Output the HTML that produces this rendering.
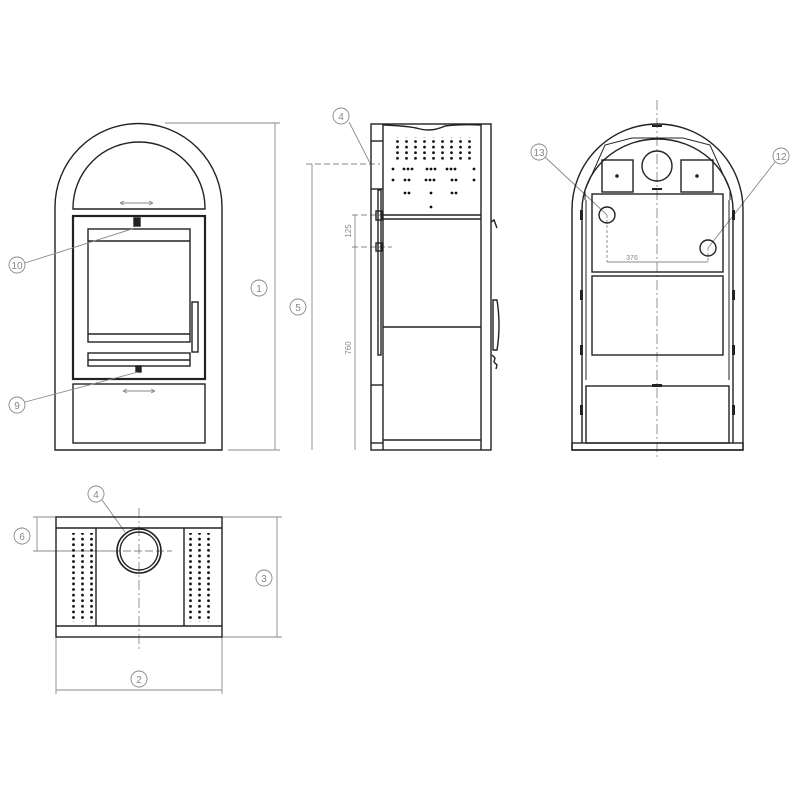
<!DOCTYPE html>
<html><head><style>body{margin:0;background:#fff}svg{display:block}</style></head><body>
<svg width="800" height="800" viewBox="0 0 800 800" xmlns="http://www.w3.org/2000/svg" font-family="Liberation Sans, sans-serif">
<defs>
<pattern id="dl" x="0" y="0" width="9" height="5.6" patternUnits="userSpaceOnUse"><circle cx="1.5" cy="1.5" r="1.4" fill="#111"/></pattern>
</defs>
<g fill="none" stroke="#222" stroke-width="1.4">
<path d="M55,450 V207 A83.5,83.5 0 0 1 222,207 V450 Z"/>
<path d="M73,209 V208 A66,66 0 0 1 205,208 V209 Z"/>
<rect x="73" y="216" width="132" height="163" stroke-width="2.2"/>
<rect x="88" y="229" width="102" height="113"/>
<line x1="88" y1="241" x2="190" y2="241"/>
<line x1="88" y1="334" x2="190" y2="334"/>
<rect x="192" y="302" width="6" height="50"/>
<rect x="88" y="353" width="102" height="13"/>
<line x1="88" y1="360" x2="190" y2="360"/>
<rect x="73" y="384" width="132" height="59"/>
<rect x="134" y="218" width="6" height="8" fill="#222"/>
<rect x="136" y="366" width="5" height="6" fill="#222"/>
</g>
<g stroke="#888" stroke-width="0.9" fill="none">
<path d="M120,203 H153 M120,203 l4,-2 M120,203 l4,2 M153,203 l-4,-2 M153,203 l-4,2"/>
<path d="M123,391 H155 M123,391 l4,-2 M123,391 l4,2 M155,391 l-4,-2 M155,391 l-4,2"/>
<line x1="25" y1="263" x2="135" y2="228"/>
<line x1="25" y1="402" x2="138" y2="372"/>
<line x1="165" y1="123" x2="280" y2="123"/>
<line x1="228" y1="450" x2="280" y2="450"/>
<line x1="275" y1="123" x2="275" y2="450"/>
<line x1="312" y1="164" x2="312" y2="450"/>
<line x1="306" y1="164" x2="380" y2="164" stroke-dasharray="6,3"/>
<line x1="355" y1="215" x2="355" y2="450"/>
<line x1="352" y1="215" x2="392" y2="215" stroke-dasharray="6,3"/>
<line x1="352" y1="247" x2="392" y2="247" stroke-dasharray="6,3"/>
<line x1="349" y1="122" x2="370" y2="163"/>
<line x1="657" y1="100" x2="657" y2="460" stroke-dasharray="10,3,2,3"/>
<line x1="545" y1="157" x2="607" y2="215"/>
<line x1="775" y1="162" x2="708" y2="248"/>
<line x1="607" y1="215" x2="607" y2="262" stroke-dasharray="3,2"/>
<line x1="708" y1="248" x2="708" y2="262" stroke-dasharray="3,2"/>
<line x1="607" y1="262" x2="708" y2="262"/>
<line x1="139" y1="508" x2="139" y2="650" stroke-dasharray="10,3,2,3"/>
<line x1="112" y1="551" x2="172" y2="551" stroke-dasharray="8,3"/>
<line x1="222" y1="517" x2="282" y2="517"/>
<line x1="222" y1="637" x2="282" y2="637"/>
<line x1="277" y1="517" x2="277" y2="637"/>
<line x1="56" y1="637" x2="56" y2="694"/>
<line x1="222" y1="637" x2="222" y2="694"/>
<line x1="56" y1="690" x2="222" y2="690"/>
<line x1="33" y1="517" x2="56" y2="517"/>
<line x1="33" y1="551" x2="118" y2="551"/>
<line x1="37" y1="517" x2="37" y2="551"/>
<line x1="102" y1="500" x2="125" y2="532"/>
</g>
<g fill="#fff" stroke="#888" stroke-width="0.9">
<circle cx="17" cy="265" r="8"/><circle cx="17" cy="405" r="8"/><circle cx="259" cy="288" r="8"/>
<circle cx="298" cy="307" r="8"/><circle cx="341" cy="116" r="8"/>
<circle cx="539" cy="152" r="8"/><circle cx="781" cy="156" r="8"/>
<circle cx="96" cy="494" r="8"/><circle cx="22" cy="536" r="8"/><circle cx="264" cy="578" r="8"/><circle cx="139" cy="679" r="8"/>
</g>
<g fill="#888" font-size="10" text-anchor="middle">
<text x="17" y="269">10</text><text x="17" y="409">9</text><text x="259" y="292">1</text>
<text x="298" y="311">5</text><text x="341" y="120">4</text>
<text x="539" y="156">13</text><text x="781" y="160">12</text>
<text x="96" y="498">4</text><text x="22" y="540">6</text><text x="264" y="582">3</text><text x="139" y="683">2</text>
<text x="632" y="260" font-size="7">376</text>
<text transform="translate(351,231) rotate(-90)" font-size="8">125</text>
<text transform="translate(351,348) rotate(-90)" font-size="8">760</text>
</g>
<g fill="none" stroke="#222" stroke-width="1.4">
<rect x="371" y="124" width="120" height="326"/>
<line x1="383" y1="124" x2="383" y2="450"/>
<line x1="481" y1="124" x2="481" y2="450"/>
<path d="M383,125 Q410,126 420,129 Q432,132 445,126 Q460,124 481,125"/>
<line x1="383" y1="215" x2="481" y2="215"/>
<line x1="383" y1="219" x2="481" y2="219"/>
<line x1="383" y1="327" x2="481" y2="327"/>
<line x1="383" y1="440" x2="481" y2="440"/>
<line x1="371" y1="141" x2="383" y2="141"/>
<line x1="371" y1="189" x2="383" y2="189"/>
<line x1="371" y1="385" x2="383" y2="385"/>
<line x1="371" y1="443" x2="383" y2="443"/>
<rect x="378" y="190" width="3" height="165"/>
<rect x="376" y="211" width="6" height="9"/>
<rect x="376" y="243" width="6" height="8"/>
<path d="M491,222 l3,-2 l3,8"/>
<path d="M493,300 h4 q4,25 0,50 h-4 z"/>
<path d="M492,355 l3,3 l-1,4 l3,3 l-1,4"/>
</g>
<g fill="#111">
<rect x="392" y="137" width="84" height="25" fill="url(#dl)"/>
<g>
<circle cx="393" cy="169" r="1.4"/><circle cx="404" cy="169" r="1.4"/><circle cx="408" cy="169" r="1.4"/><circle cx="412" cy="169" r="1.4"/><circle cx="427" cy="169" r="1.4"/><circle cx="431" cy="169" r="1.4"/><circle cx="435" cy="169" r="1.4"/><circle cx="447" cy="169" r="1.4"/><circle cx="451" cy="169" r="1.4"/><circle cx="455" cy="169" r="1.4"/><circle cx="474" cy="169" r="1.4"/>
<circle cx="393" cy="180" r="1.4"/><circle cx="405" cy="180" r="1.4"/><circle cx="409" cy="180" r="1.4"/><circle cx="426" cy="180" r="1.4"/><circle cx="430" cy="180" r="1.4"/><circle cx="434" cy="180" r="1.4"/><circle cx="452" cy="180" r="1.4"/><circle cx="456" cy="180" r="1.4"/><circle cx="474" cy="180" r="1.4"/>
<circle cx="405" cy="193" r="1.4"/><circle cx="409" cy="193" r="1.4"/><circle cx="431" cy="193" r="1.4"/><circle cx="452" cy="193" r="1.4"/><circle cx="456" cy="193" r="1.4"/>
<circle cx="431" cy="207" r="1.4"/>
</g>
</g>
<g fill="none" stroke="#222" stroke-width="1.4">
<path d="M572,450 V209.5 A85.5,85.5 0 0 1 743,209.5 V450 Z"/>
<path d="M582,443 V210 A75.5,71 0 0 1 733,210 V443"/>
<rect x="572" y="443" width="171" height="7"/>
<path d="M585,200 V190 L605,145 L632,138 H683 L710,145 L730,190 V200" stroke-width="1"/>
<circle cx="657" cy="166" r="15"/>
<rect x="602" y="160" width="31" height="32"/>
<rect x="681" y="160" width="32" height="32"/>
<rect x="592" y="194" width="131" height="78"/>
<rect x="592" y="276" width="131" height="79"/>
<rect x="586" y="386" width="143" height="57"/>
<circle cx="607" cy="215" r="8"/>
<circle cx="708" cy="248" r="8"/>
<path d="M586,200 V380 M729,200 V380" stroke-width="1"/>
</g>
<g fill="#222">
<circle cx="617" cy="176" r="1.8"/><circle cx="697" cy="176" r="1.8"/>
<rect x="652" y="188" width="10" height="2"/><rect x="652" y="384" width="10" height="3"/><rect x="652" y="125" width="10" height="2"/>
<rect x="580" y="210" width="3" height="10"/><rect x="580" y="290" width="3" height="10"/><rect x="580" y="345" width="3" height="10"/><rect x="580" y="405" width="3" height="10"/>
<rect x="732" y="210" width="3" height="10"/><rect x="732" y="290" width="3" height="10"/><rect x="732" y="345" width="3" height="10"/><rect x="732" y="405" width="3" height="10"/>
</g>
<g fill="none" stroke="#222" stroke-width="1.4">
<rect x="56" y="517" width="166" height="120"/>
<line x1="56" y1="528" x2="222" y2="528"/>
<line x1="56" y1="626" x2="222" y2="626"/>
<line x1="96" y1="528" x2="96" y2="626"/>
<line x1="184" y1="528" x2="184" y2="626"/>
<circle cx="139" cy="551" r="22" stroke-width="1.6"/>
<circle cx="139" cy="551" r="19"/>
</g>
<g>
<rect x="67" y="533" width="27" height="89" fill="url(#dl)"/>
<rect x="189" y="533" width="27" height="89" fill="url(#dl)"/>
</g>
</svg>
</body></html>
